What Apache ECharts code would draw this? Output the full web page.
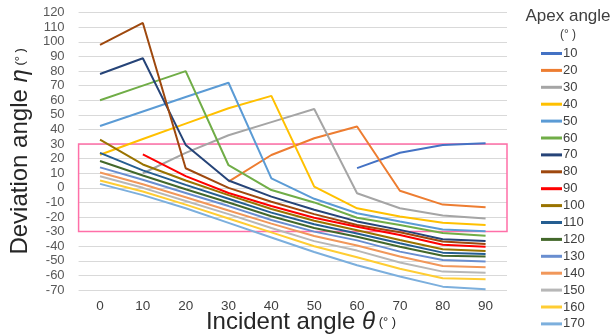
<!DOCTYPE html>
<html>
<head>
<meta charset="utf-8">
<script src="https://cdn.jsdelivr.net/npm/echarts@6/dist/echarts.min.js"></script>
<style>
html,body{margin:0;padding:0;background:#fff;}
#chart{width:616px;height:336px;}
</style>
</head>
<body>
<div id="chart"></div>
<script>
const thetas = ['0','10','20','30','40','50','60','70','80','90'];
const apexAngles = ['10','20','30','40','50','60','70','80','90','100','110','120','130','140','150','160','170'];
const yTicks = [-70, 120, 10];

const eta10  = [null,null,null,null,null,null,13.5,24,29.3,30.5];
const eta20  = [null,null,null,4.2,22.5,34,42,-2,-11.5,-13.3];
const eta30  = [null,10,24,36,45,54,-3.7,-14,-19,-21];
const eta40  = [22.7,33.5,44,54.5,63,0.8,-14,-19.7,-24,-25.4];
const eta50  = [42.4,52.3,62.2,72,6.5,-7.5,-17.4,-23,-28.5,-29.8];
const eta60  = [60,70,80,15.5,-1.5,-10,-20.5,-25.4,-31,-32.9];
const eta70  = [78,88.8,29.4,5,-6,-15,-23,-28.8,-35.2,-36.4];
const eta80  = [98,113,13.4,0,-9.5,-18,-25.4,-30.4,-36.8,-38.4];
const eta90  = [null,23,8,-3.5,-12.5,-20.5,-26.6,-32.3,-39,-40.3];
const eta100 = [33,16,5,-5,-14.5,-22.5,-29,-35.7,-42.1,-43.2];
const eta110 = [24,12,2,-7.5,-17,-25,-31.3,-38,-44.4,-45.3];
const eta120 = [18.4,8.5,-1,-10,-19.5,-27.5,-33.5,-40.3,-46.6,-47.1];
const eta130 = [14,5.5,-3.5,-12.5,-22,-30,-36,-43.7,-49.4,-50.5];
const eta140 = [10.5,2.5,-6.5,-15.5,-24.5,-33,-39.5,-47.1,-53.5,-54.4];
const eta150 = [8,0,-9,-18,-27.5,-36.5,-43,-51.2,-57.4,-58.1];
const eta160 = [5,-2.5,-11.5,-21,-30.5,-40,-47.5,-55.5,-62,-62.6];
const eta170 = [2.7,-5,-14,-24,-34,-44,-53,-60.8,-67.7,-69.5];
const highlightBand = [30, -30];

const allSeries = [eta10,eta20,eta30,eta40,eta50,eta60,eta70,eta80,eta90,eta100,eta110,eta120,eta130,eta140,eta150,eta160,eta170];
const colors = ['#4472c4','#ed7d31','#a5a5a5','#ffc000','#5b9bd5','#70ad47','#264478','#9e480e','#ff0000','#997300','#255e91','#43682b','#698ed0','#f1975a','#b7b7b7','#ffcd33','#7cafdd'];

const series = allSeries.map((d, i) => {
  const s = {
    name: apexAngles[i],
    type: 'line',
    data: d,
    symbol: 'none',
    showSymbol: false,
    connectNulls: false,
    lineStyle: { width: 2, color: colors[i] },
    itemStyle: { color: colors[i] },
    emphasis: { disabled: true },
    animation: false,
    z: 3
  };
  if (i === 0) {
    s.markArea = {
      silent: true,
      itemStyle: { color: 'rgba(0,0,0,0)', borderColor: '#ff6fa8', borderWidth: 1.5 },
      data: [[{ yAxis: highlightBand[0] }, { yAxis: highlightBand[1] }]]
    };
  }
  return s;
});

const chart = echarts.init(document.getElementById('chart'), null, { renderer: 'canvas' });
chart.setOption({
  animation: false,
  color: colors,
  textStyle: { fontFamily: 'Liberation Sans, Arial, sans-serif' },
  title: [
    { text: 'Apex angle', left: 563, top: 3, textAlign: 'center',
      textStyle: { fontSize: 17, fontWeight: 'normal', color: '#404040' } },
    { text: '(° )', left: 563, top: 24, textAlign: 'center',
      textStyle: { fontSize: 12, fontWeight: 'normal', color: '#404040' } },
    { text: '{a|Incident angle }{i|θ}{s| (° )}', left: 296, top: 305, textAlign: 'center',
      textStyle: { fontWeight: 'normal', rich: {
        a: { fontSize: 24, color: '#262626', fontWeight: 'normal' },
        i: { fontSize: 24, color: '#262626', fontStyle: 'italic', fontWeight: 'normal' },
        s: { fontSize: 13, color: '#262626', fontWeight: 'normal' } } } }
  ],
  legend: {
    orient: 'vertical',
    left: 541,
    top: 47,
    padding: 0,
    itemWidth: 21,
    itemHeight: 3,
    itemGap: 3.9,
    icon: 'rect',
    textStyle: { fontSize: 13, color: '#404040', padding: [0,0,0,-4] },
    data: apexAngles
  },
  grid: { left: 77, right: 109, top: 12.7, bottom: 46, containLabel: false },
  xAxis: {
    type: 'category',
    data: thetas,
    boundaryGap: true,
    axisLine: { show: false, onZero: true },
    axisTick: { show: false },
    axisLabel: { fontSize: 13.5, color: '#404040', margin: 9 },
    splitLine: { show: false }
  },
  yAxis: {
    type: 'value',
    min: yTicks[0],
    max: yTicks[1],
    interval: yTicks[2],
    name: '{a|Deviation angle }{i|η}{s| (° )}',
    nameLocation: 'middle',
    nameGap: 35,
    nameRotate: 90,
    nameTextStyle: { fontWeight: 'normal', rich: {
      a: { fontSize: 24, color: '#262626', fontWeight: 'normal' },
      i: { fontSize: 24, color: '#262626', fontStyle: 'italic', fontWeight: 'normal' },
      s: { fontSize: 13, color: '#262626', fontWeight: 'normal' } } },
    axisLine: { show: false },
    axisTick: { show: false },
    axisLabel: { fontSize: 13, color: '#595959', margin: 14 },
    splitLine: { lineStyle: { color: '#d9d9d9', width: 1 } }
  },
  series: series
});
</script>
</body>
</html>
